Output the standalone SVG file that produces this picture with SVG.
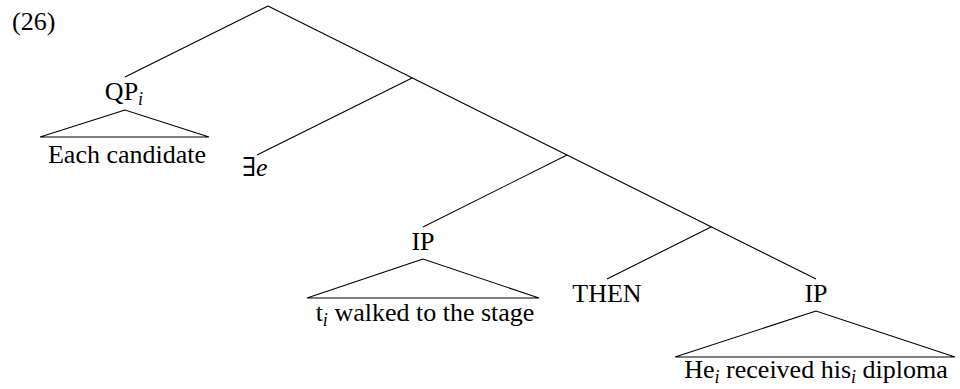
<svg xmlns="http://www.w3.org/2000/svg" width="960" height="389" viewBox="0 0 960 389">
<style>
.t{font-family:"Liberation Serif","DejaVu Serif",serif;font-size:26px;fill:#000}
.m{text-anchor:middle}
.s{font-style:italic;font-size:18px}
.l{stroke:#000;stroke-width:1.1;fill:none}
</style>
<rect width="960" height="389" fill="#fff"/>
<text class="t" x="12" y="30">(26)</text>
<g id="connectors">
<line class="l" x1="268" y1="6" x2="125" y2="77"/>
<line class="l" x1="268" y1="6" x2="816" y2="279"/>
<line class="l" x1="412" y1="78" x2="257" y2="155"/>
<line class="l" x1="567" y1="155" x2="423" y2="227"/>
<line class="l" x1="711" y1="227" x2="607" y2="279"/>
</g>
<g id="qp">
<text class="t m" x="124" y="100">QP<tspan class="s" dy="5">i</tspan></text>
<polygon class="l" points="125,110 40,137 209,137"/>
<text class="t m" x="127" y="163">Each candidate</text>
</g>
<g id="exists">
<text class="t" x="242" y="176">∃<tspan font-style="italic">e</tspan></text>
</g>
<g id="ip1">
<text class="t m" x="423" y="250">IP</text>
<polygon class="l" points="423,259 307,298 539,298"/>
<text class="t m" x="425" y="321">t<tspan class="s" dy="5">i</tspan><tspan dy="-5"> walked to the stage</tspan></text>
</g>
<g id="then">
<text class="t m" x="607" y="302">THEN</text>
</g>
<g id="ip2">
<text class="t m" x="816" y="302">IP</text>
<polygon class="l" points="816,311 675,357 955,357"/>
<text class="t m" x="816" y="378">He<tspan class="s" dy="5">i</tspan><tspan dy="-5"> received his</tspan><tspan class="s" dy="5">i</tspan><tspan dy="-5"> diploma</tspan></text>
</g>
</svg>
